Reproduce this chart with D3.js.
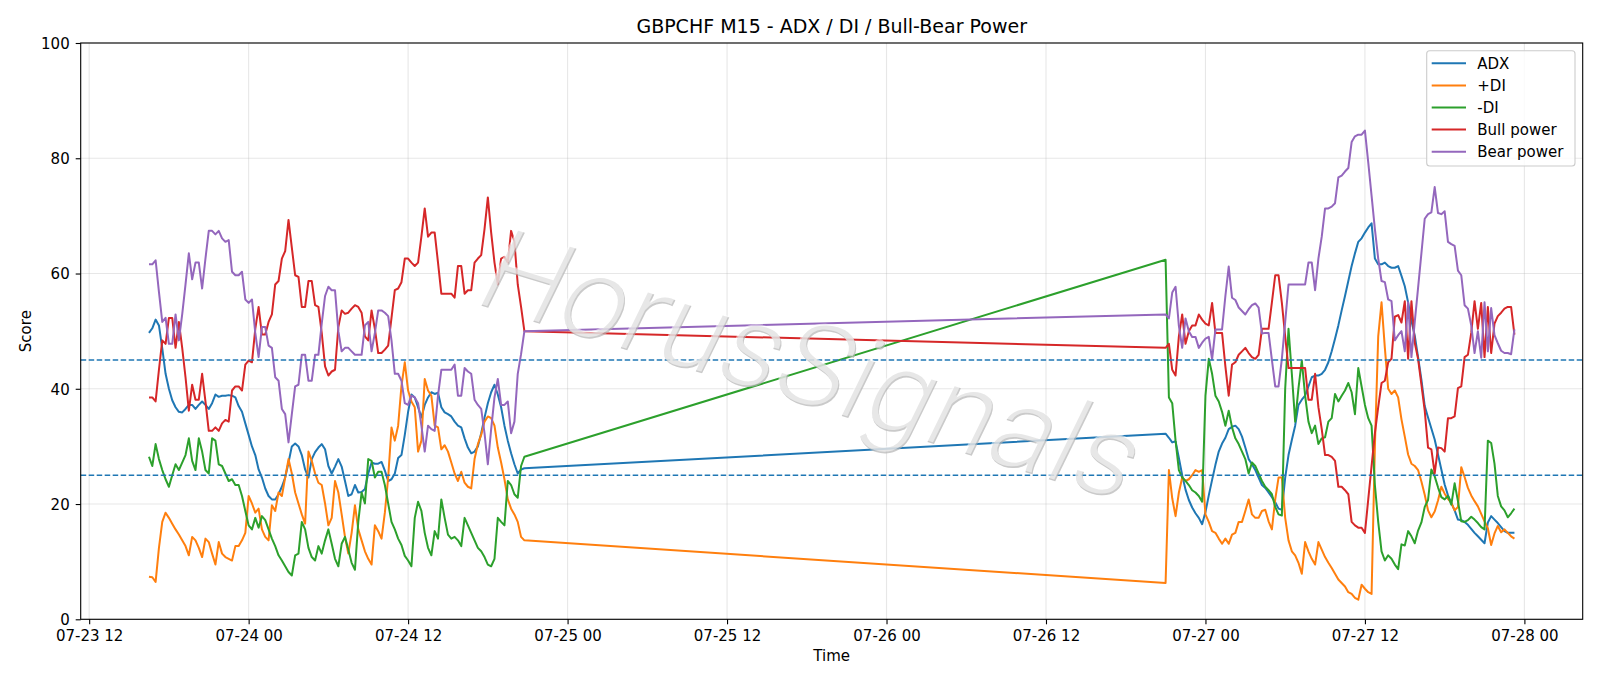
<!DOCTYPE html>
<html><head><meta charset="utf-8">
<script src="https://cdn.jsdelivr.net/npm/d3@7"></script>
<style>body{margin:0;background:#fff}svg{display:block}text{font-family:"DejaVu Sans",sans-serif}</style>
</head><body><svg id="c" width="1600" height="686"></svg>
<script>
// ---- data (M15 bars; session 1 from 07-23 16:30, session 2 from 07-26 21:00) ----
const session1Start = "2020-07-23T16:30:00Z";
const session2Start = "2020-07-26T21:00:00Z";
const session1Bars = 114;
const seriesNames = ["ADX", "+DI", "-DI", "Bull power", "Bear power"];
const xTickLabels = ["07-23 12","07-24 00","07-24 12","07-25 00","07-25 12","07-26 00","07-26 12","07-27 00","07-27 12","07-28 00"];
const yTickLabels = [0, 20, 40, 60, 80, 100];
const thresholds = [45, 25];

const adx = [
49.7,50.5,52,51,47,42.6,40,38,36.8,36,35.9,36.5,37.2,37.2,36.5,37.2,37.8,37.2,36.5,37.5,
39,38.6,38.8,38.8,38.9,38.8,38.5,37,36,34,32,30,28.5,26,24.6,22.7,21.4,20.8,20.8,21.7,
23,24.6,27.2,30,30.5,30,28.5,26,24.6,27.8,29,29.8,30.4,29.5,26.6,25.3,26.5,27.8,26.5,24,
21.4,21.7,23.3,22,22.1,22.6,25.3,27.2,27,27,27.3,25.8,24,24.3,25.3,28,28.5,32,36,39,
38.5,36.8,35,37.2,38.5,39.4,39.1,39.3,36.8,35.9,35.6,35.2,34.3,33.6,33.3,31.4,29.8,28.8,29.1,30,
32.3,35,37.5,39.4,40.7,39,36.8,33.6,31,28.8,26.9,25.3,26,26.2,
32.2,31.5,30.7,30.9,28,25,22.5,20.7,19.4,18.4,17.6,16.5,18.6,21.5,24.2,26.8,29.1,30.5,31.5,33,
33.4,33.6,33,31.7,29.8,27.8,26.9,25.9,24.6,23.3,22.8,22,21.2,20.3,19.2,19,24.6,28.5,31.1,33.6,
37.2,38.1,38.8,40.4,42,42.3,42.3,42.6,43.3,44.6,46.5,48.7,51,53.6,56.1,58.7,61.3,63.5,65.5,66.1,
67.1,68,68.7,62.6,61.6,61.6,61.9,61.3,61,61,61.3,59.6,57.8,55,51.8,49.2,45.5,41.6,37,35,
33.1,31.2,28.6,26,23.4,21.5,20.2,18.9,17.3,17.2,16.9,16.4,15.7,15,14.4,13.8,13.2,16.8,17.9,17.3,
16.7,16,15.3,15,15,15];

const plusDI = [
7.4,7.3,6.5,12.4,16.9,18.5,17.6,16.6,15.6,14.7,13.7,12.7,11.1,14.3,13.7,12.4,10.8,14,13.4,11.4,
9.5,13.4,11.4,10.8,10.5,10.2,12.7,12.7,13.7,15,21.4,20.1,18.5,19.2,15.6,14.3,13.7,19.8,18.8,22,
21.4,24.6,27.8,25.3,22,20.1,18.2,16.6,29.1,27.5,25.3,23.7,23.3,20.1,16.3,17.6,24,22,18.2,14.3,
11.4,15,19.8,15.6,13.7,11.8,10.5,9.5,16.3,15.3,14,18.5,24.6,33.3,31,33.6,40.5,44.6,39.7,37.8,
36.8,29.1,31,41.7,39.7,38.8,33.6,33.3,29.5,30.2,29.1,27.2,25.3,24,25.6,23.7,23,22.7,27.8,30.4,
32,34.3,35.2,34.9,33.6,29.8,27.2,24.3,20.8,19.2,18.2,16.9,14.3,13.7,
6.3,25.9,21,17.9,22,24.6,24,24.3,25,25.9,25.6,25.9,18.2,16.9,15.3,15,14,13.1,14,13.1,
14.7,15,16.9,16.9,18.8,20.8,18.2,17.6,17.6,18.8,19,17,15.6,20.8,24.6,24.6,17.6,13.7,11.8,11.1,
9.8,7.9,13.4,11.8,10.5,9.5,13.4,12.1,10.8,9.8,8.9,7.9,6.9,6.3,5.7,4.7,4.4,3.7,3.4,6,
5.3,4.7,4.4,30,49.1,55,47.1,40,39.1,39.7,38.5,34.7,31.7,28.6,27,26.6,25.9,23.9,21.6,18.9,
17.7,18.7,20.6,23,21.8,20.9,20.2,18.9,19.5,26.4,24.7,22.8,21.5,20.5,19.6,18.3,17,15.8,12.9,14.9,
16.2,15.1,15.6,15,14.4,14];

const minusDI = [
28.2,26.6,30.4,27.8,25.9,24.3,23,25,26.9,25.9,27.2,28.5,31.4,27.5,25.9,31.4,29.1,25.9,25.3,31.4,
31,26.9,26.6,25.3,24,24.3,23.3,23.3,21.4,18.8,16.3,15.6,17.6,15.9,17.9,17.2,15.6,14,12.7,11.1,
10.2,9.2,8.2,7.6,11.1,11.4,16.9,15.6,12.4,10.8,10.2,12.7,11.4,13.7,15.6,13.1,10.5,9.2,13.1,14.3,
12.1,9.8,8.6,16.9,22,20.1,27.8,27.5,24.6,25.6,25.6,23.3,20.1,16.9,15.6,14,12.9,11,10.2,9.2,
17.6,20.4,18.8,15,12.4,11.1,15.3,14,20.8,17.6,14.7,14,14.3,13.7,12.7,17.6,16.3,15,13.7,12.4,
11.8,10.8,9.5,9.2,10.5,17.6,16.9,16.3,24,23.3,21.7,21.1,26.6,28.2,
62.4,38.5,37.5,31,25.9,24.6,24,23.3,22.4,22,21.4,20.4,38.8,45.2,42.6,38.8,37.8,36,33.6,36.2,
33.3,31.4,30.4,29.1,27.8,25.3,27.2,26.6,25.3,24,23,22.4,21.7,19.5,18.2,18,40,50.4,42.6,34.3,
40.1,44.9,38.8,34.3,32.3,33.6,30.4,31.4,31.6,34.3,34.9,39.1,37.8,38.8,39.7,41,39.4,35.6,43.6,40.4,
37.2,34.9,33.6,23.3,16.9,11.8,10.2,11.1,10.5,9.5,8.7,13,12.8,15.3,14.4,13.2,15.4,16.8,19.5,20.7,
26,24.8,22.9,21.2,20.8,21.4,19.9,23.6,20.5,17,16.9,17.2,17.8,17.3,16.7,16,15.6,31,30.6,27,
21.4,19.6,18.9,17.7,18.4,19.2];

const bullPower = [
38.5,38.5,37.8,43.3,48.4,47.8,52.3,52.3,47.1,51.6,47.1,42,36.2,40.7,38.1,38.1,42.6,37.8,32.7,32.7,
33.3,32.7,34,34.6,34.3,39.7,40.4,40.4,39.7,44.2,44.9,44.6,50.4,54.2,49.4,49.4,51.6,52.9,58.1,58.7,
62.6,63.9,69.3,64.5,59.7,59.4,54.2,54.2,58.7,58.7,54.5,54.2,49.7,43.9,42.3,43,43.3,50.7,53.6,53,
53.2,53.9,54.5,54.2,53.2,49.1,48.4,53.6,50.4,46.2,46.2,46.8,47.5,52.3,57.1,57.4,58.5,62.6,62.6,61.9,
61.3,61.9,66.4,71.3,66.4,67.1,67.1,61.9,56.5,56.5,56.5,56.5,55.8,61.3,61.3,56.5,57.1,57.1,61.9,62.6,
63.2,67.7,73.2,67.1,61.9,58.1,62.6,62.9,61.9,67.4,65.5,58.1,54.2,50,
47.1,47.8,43.3,42.3,49.1,52.9,47.8,50,51,51,52.9,52,51.3,51,54.9,49.7,49.7,49.7,43.9,38.8,
44.2,44.6,45.9,46.5,47.1,46.2,45.5,45.2,45.9,50.4,50.4,50.4,55,59.7,59.7,54.9,49.1,43.6,43.6,43.6,
43.6,43.6,43.6,38.1,38.1,42.6,36.8,33,28.5,28.5,28.2,27.5,23,23,22.4,21.7,16.9,16.3,15.9,15.9,
15,20.8,26.6,32.3,36.8,41,41.4,44.6,45.2,52.5,52.8,51.5,55.2,45.2,55.2,48,45.2,40.7,36.2,29.8,
29.5,25.3,29.8,29.7,29.1,34.9,34.9,35.2,40.1,40.4,45.5,45.9,49.7,55.2,50.4,54.9,45.5,54.2,46.2,51.3,
52.6,53.2,53.9,54.2,54.2,49.4];

const bearPower = [
61.6,61.6,62.3,56.8,51.6,52.3,47.8,47.8,52.9,48.4,52.9,58.1,63.5,59,61.9,61.9,57.4,62.6,67.4,67.4,
66.8,67.4,66.1,65.5,65.8,60.3,59.7,59.7,60.3,55.5,54.9,55.5,49.7,45.5,50.7,50.7,47.5,47.1,42,41.4,
36.5,35.6,30.7,35.6,40.4,40.7,45.9,45.9,41.4,41.4,45.9,45.9,51.3,56.1,57.7,57.1,57.1,50,46.5,47.1,
47.1,46.5,45.9,45.9,45.9,51,51.6,46.5,49.7,53.6,53.6,53.2,52.6,48.4,42.6,42.6,41.4,37.5,37.2,38.8,
38.5,37.5,33.6,29.1,33.6,33,32.7,38.8,43.3,43.3,43.3,43.3,44.2,38.8,38.8,43.6,43,42.6,38.1,37.2,
36.5,32.3,26.9,33,38.5,41.7,37.2,37.2,37.8,32.3,34.3,42.6,46,50,
52.9,52.2,56.7,57.7,50.9,47.1,52.2,50,49,49,47.1,48,48.7,49,45.1,50.3,50.3,50.3,56.1,61.2,
55.8,55.4,54.1,53.5,52.9,53.8,54.5,54.8,54.1,49.6,49.7,49.7,45,40.4,40.4,45.2,51.6,58.1,58.1,58.1,
58.1,58.1,58.1,61.9,61.9,57.1,62.6,66.4,71.3,71.3,71.6,72.2,76.7,77,77.7,78.3,82.8,83.8,84.1,84.1,
84.8,79.3,73.5,67.7,62.6,58.7,58.5,55.5,55.2,48.4,49.3,50,46.5,55,45.5,51.6,57.5,63.5,69.5,70.3,
70.6,75,70.5,70.3,70.8,65.5,65.1,64.8,60.5,59.7,54.5,53.9,51,46.2,50,45.4,55,46.5,54,49.3,
47.9,46.6,46.2,46.2,46,50.3];

const seriesValues = [adx, plusDI, minusDI, bullPower, bearPower];
const seriesColors = ["#1f77b4", "#ff7f0e", "#2ca02c", "#d62728", "#9467bd"];

// ---- time stamps of the bars ----
const stepMs = 15 * 60 * 1000;
const t1 = new Date(session1Start).getTime(), t2 = new Date(session2Start).getTime();
const times = adx.map((_, i) => new Date(i < session1Bars ? t1 + i * stepMs : t2 + (i - session1Bars) * stepMs));

// ---- layout ----
const L = 80.7, R = 1582.7, T = 43, B = 619.3;
const svg = d3.select("#c");
const tMin = times[0].getTime(), tMax = times[times.length - 1].getTime();
const pad = (tMax - tMin) * 0.05;
const x = d3.scaleUtc().domain([new Date(tMin - pad), new Date(tMax + pad)]).range([L, R]);
const y = d3.scaleLinear().domain([0, 100]).range([B, T]);
const parseTick = d3.utcParse("%Y-%m-%d %H");
const xTicks = xTickLabels.map(s => parseTick("2020-" + s));
const fmt = d3.utcFormat("%m-%d %H");

// grid
const g = svg.append("g");
g.selectAll("line.vx").data(xTicks).join("line")
  .attr("x1", d => x(d)).attr("x2", d => x(d)).attr("y1", T).attr("y2", B)
  .attr("stroke", "#b0b0b0").attr("stroke-opacity", 0.3).attr("stroke-width", 1.1);
g.selectAll("line.hy").data(yTickLabels).join("line")
  .attr("x1", L).attr("x2", R).attr("y1", d => y(d)).attr("y2", d => y(d))
  .attr("stroke", "#b0b0b0").attr("stroke-opacity", 0.3).attr("stroke-width", 1.1);

// series
const line = d3.line().x((d, i) => x(times[i])).y(d => y(d));
seriesValues.forEach((vals, k) => {
  svg.append("path").datum(vals).attr("d", line).attr("fill", "none")
    .attr("stroke", seriesColors[k]).attr("stroke-width", 2).attr("stroke-linejoin", "round");
});

// thresholds
svg.selectAll("line.th").data(thresholds).join("line")
  .attr("x1", L).attr("x2", R).attr("y1", d => y(d)).attr("y2", d => y(d))
  .attr("stroke", "#1f77b4").attr("stroke-width", 1.5).attr("stroke-dasharray", "5.5,2.5");

// axes
const xAxis = d3.axisBottom(x).tickValues(xTicks).tickFormat(fmt).tickSize(5).tickPadding(6.5);
const yAxis = d3.axisLeft(y).tickValues(yTickLabels).tickSize(5).tickPadding(6);
const gx = svg.append("g").attr("transform", `translate(0,${B})`).call(xAxis);
const gy = svg.append("g").attr("transform", `translate(${L},0)`).call(yAxis);
[gx, gy].forEach(a => {
  a.select(".domain").remove();
  a.selectAll("line").attr("stroke", "#000").attr("stroke-width", 1.1);
  a.selectAll("text").attr("fill", "#000").style("font-size", "15px").style("font-family", "DejaVu Sans");
});
gx.selectAll("text").attr("dy", "0.71em");
gy.selectAll("text").attr("dy", "0.36em");

// frame
svg.append("rect").attr("x", L).attr("y", T).attr("width", R - L).attr("height", B - T)
  .attr("fill", "none").attr("stroke", "#000").attr("stroke-width", 1.1);

// watermark
const wm = svg.append("g").attr("transform", "translate(796,402) rotate(17) skewX(-9)");
wm.append("text").text("HorusSignals").attr("x", 0).attr("y", 0).attr("text-anchor", "middle")
  .style("font-family", "Roboto").style("font-size", "116px").style("font-weight", 300)
  .attr("fill", "#b4b4b4").attr("opacity", 0.7);
wm.append("text").text("HorusSignals").attr("x", -1.6).attr("y", -1.4).attr("text-anchor", "middle")
  .style("font-family", "Roboto").style("font-size", "116px").style("font-weight", 300)
  .attr("fill", "#ffffff").attr("opacity", 0.55);

// title and labels
svg.append("text").text("GBPCHF M15 - ADX / DI / Bull-Bear Power").attr("x", (L + R) / 2).attr("y", 33)
  .attr("text-anchor", "middle").style("font-size", "19px").attr("fill", "#000");
svg.append("text").text("Time").attr("x", (L + R) / 2).attr("y", 661)
  .attr("text-anchor", "middle").style("font-size", "15px").attr("fill", "#000");
svg.append("text").text("Score").attr("transform", `translate(31,${(T + B) / 2}) rotate(-90)`)
  .attr("text-anchor", "middle").style("font-size", "15px").attr("fill", "#000");

// legend
const lg = svg.append("g");
lg.append("rect").attr("x", 1426.7).attr("y", 50.7).attr("width", 148.3).attr("height", 115.3)
  .attr("rx", 3).attr("fill", "#fff").attr("fill-opacity", 0.8).attr("stroke", "#cccccc").attr("stroke-width", 1.1);
const rowY = d3.scaleLinear().domain([0, 4]).range([63.3, 151.7]);
seriesNames.forEach((name, k) => {
  lg.append("line").attr("x1", 1431.7).attr("x2", 1466).attr("y1", rowY(k)).attr("y2", rowY(k))
    .attr("stroke", seriesColors[k]).attr("stroke-width", 2);
  lg.append("text").text(name).attr("x", 1477.3).attr("y", rowY(k) + 5.4)
    .style("font-size", "15px").attr("fill", "#000");
});
</script></body></html>
